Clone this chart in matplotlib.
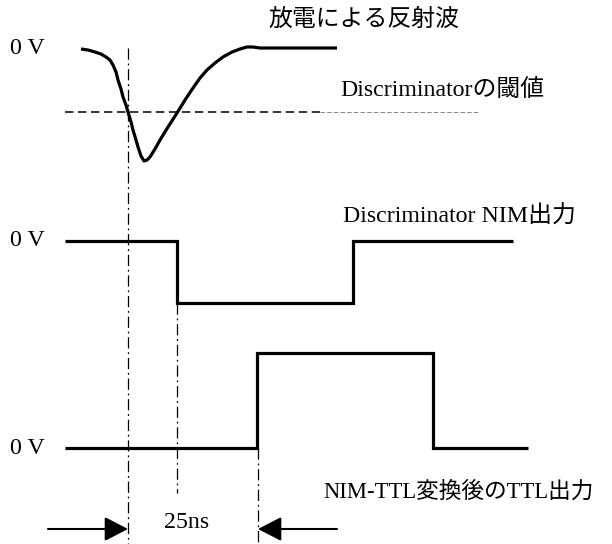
import matplotlib.pyplot as plt

# timing diagram drawn in pixel coordinates of the original picture
# reflected pulse (hand drawn curve)
pulse_x = [81, 88, 95, 101, 106, 110, 113, 116, 118, 121, 123, 126, 128, 131, 133, 136, 138,
           141, 144, 147, 150, 155, 160, 168, 177, 185, 193, 200, 207, 215, 223, 232, 240,
           247, 253, 260, 267, 300, 337]
pulse_y = [49, 50, 52, 54, 57, 60, 65, 72, 80, 89, 97, 105, 112, 122, 130, 140, 147,
           156, 161, 160, 157, 149, 140, 127, 113, 100, 88, 78, 70, 63, 57, 52, 49,
           47, 47, 48, 48, 48, 48]
threshold_y = 112

# discriminator NIM output
nim_x = [65, 177, 177, 353, 353, 513]
nim_y = [241, 241, 303, 303, 241, 241]

# TTL output after conversion
ttl_x = [65, 257, 257, 433, 433, 528]
ttl_y = [448, 448, 353, 353, 448, 448]

zero_levels = [48, 241, 448]

# vertical timing markers (x, y_top, y_bottom)
markers = [(128, 48, 544), (177, 303, 493), (258, 448, 544)]

fonts = ['Liberation Serif', 'Noto Sans CJK JP', 'DejaVu Sans']
fs = 17.2

fig = plt.figure(figsize=(6.12, 5.44), dpi=100)
ax = fig.add_axes([0, 0, 1, 1])
ax.set_xlim(0, 612)
ax.set_ylim(544, 0)
ax.axis('off')

ax.plot(pulse_x, pulse_y, color='black', lw=2.3, solid_capstyle='butt', solid_joinstyle='round')
ax.plot(nim_x, nim_y, color='black', lw=2.3, solid_joinstyle='miter', solid_capstyle='butt')
ax.plot(ttl_x, ttl_y, color='black', lw=2.3, solid_joinstyle='miter', solid_capstyle='butt')

# threshold line: thick dashes then a thinner grey part
ax.plot([65, 320], [threshold_y, threshold_y], color='black', lw=1.1, linestyle=(0, (5.5, 3)))
ax.plot([320, 478], [threshold_y, threshold_y], color='#777777', lw=0.6, linestyle=(0, (5.5, 2.5)))

for mx, y0, y1 in markers:
    ax.plot([mx, mx], [y0, y1], color='black', lw=0.9, linestyle=(0, (9, 3, 1.5, 3)))

for yl in zero_levels:
    ax.text(10, yl, '0 V', fontsize=fs, family=fonts, va='center', ha='left')

ax.text(268, 20, '放電による反射波', fontsize=fs, family=fonts, va='center', ha='left')
ax.text(340, 90, 'Discriminatorの閾値', fontsize=fs, family=fonts, va='center', ha='left')
ax.text(343, 216, 'Discriminator NIM出力', fontsize=fs, family=fonts, va='center', ha='left')
ax.text(323, 492, 'NIM-TTL変換後のTTL出力', fontsize=16.3, family=fonts, va='center', ha='left')
ax.text(187, 522, '25ns', fontsize=fs, family=fonts, va='center', ha='center')

arrow = dict(arrowstyle='-|>,head_length=1.2,head_width=0.62', mutation_scale=12,
             lw=1.5, color='black', shrinkA=0, shrinkB=0)
ax.annotate('', xy=(128, 529), xytext=(48, 529), arrowprops=arrow)
ax.annotate('', xy=(258, 529), xytext=(337, 529), arrowprops=arrow)

fig.savefig('out.png', dpi=100)
